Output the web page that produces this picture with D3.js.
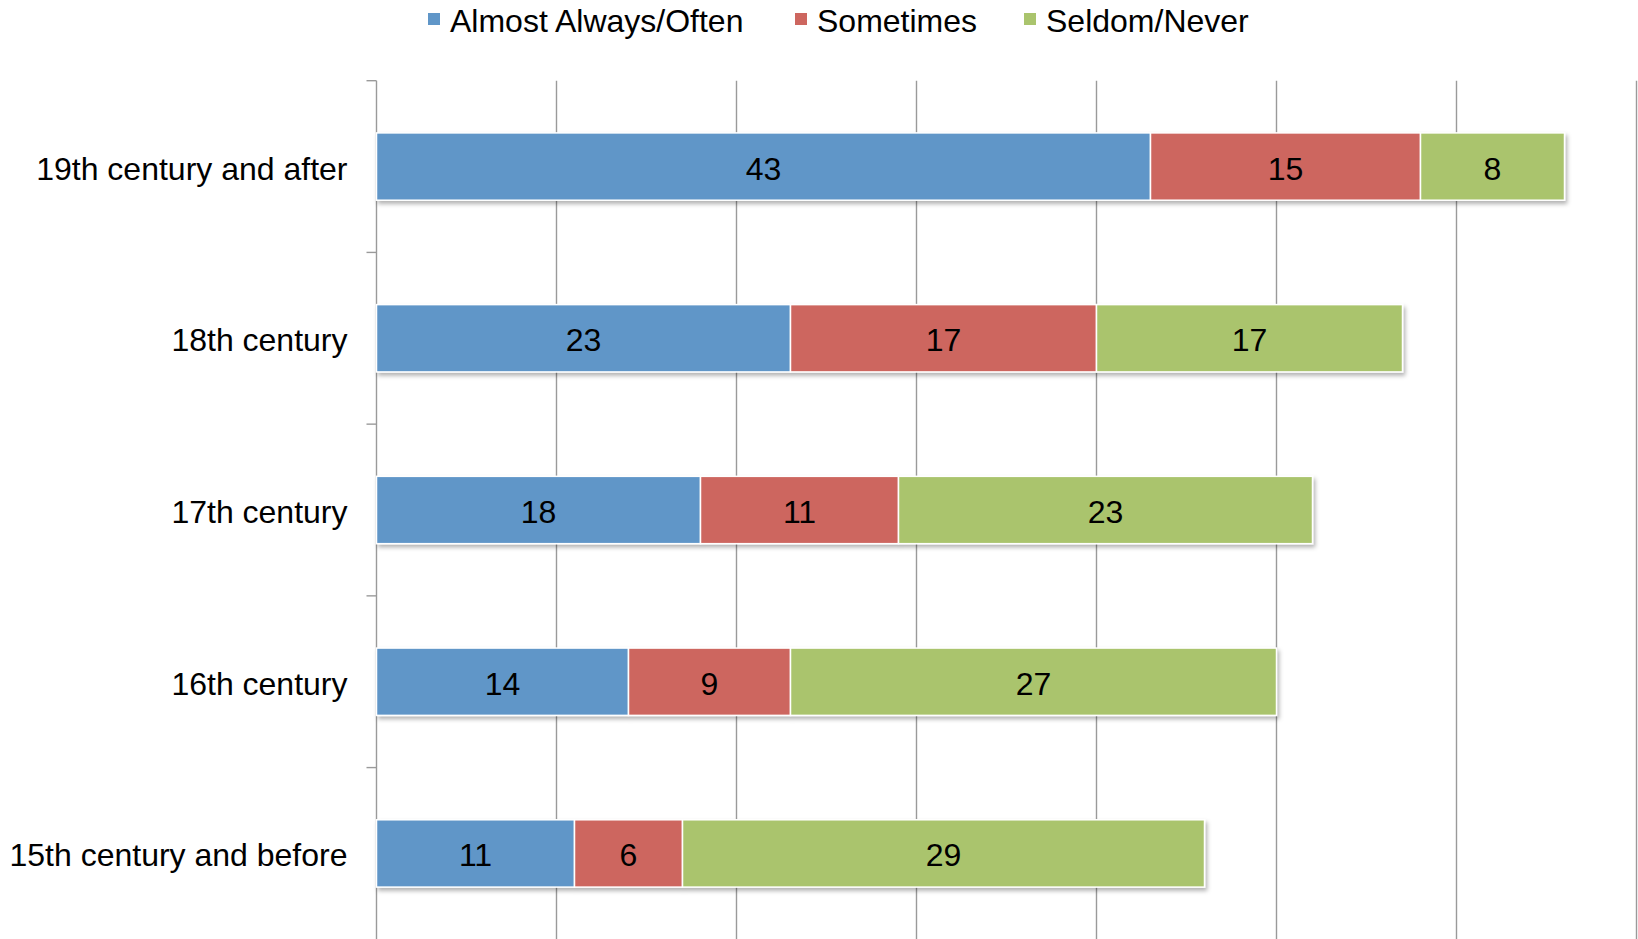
<!DOCTYPE html>
<html lang="en">
<head>
    <meta charset="UTF-8">
    <title>Stacked bars by century</title>
    <script src="https://d3js.org/d3.v7.min.js"></script>
    <style>
        html, body { margin: 0; padding: 0; background: #fff; }
        svg { display: block; font-family: "Liberation Sans", Arial, sans-serif; }
    </style>
</head>
<body>
    <svg id="chart"></svg>

    <script>
        // data, top row first
        const categories = ["19th century and after", "18th century", "17th century", "16th century", "15th century and before"];
        const seriesNames = ["Almost Always/Often", "Sometimes", "Seldom/Never"];
        const almostAlways = [43, 23, 18, 14, 11];
        const sometimes = [15, 17, 11, 9, 6];
        const seldomNever = [8, 17, 23, 27, 29];
        const xTicks = [0, 10, 20, 30, 40, 50, 60, 70];
        const colors = ["#6096c8", "#cd665f", "#aac46d"];

        const width = 1638, height = 939;
        const margin = { top: 80.7, right: 1.5, bottom: -0.3, left: 376.5 };
        const fontSize = 32;

        const svg = d3.select("#chart")
            .attr("width", width)
            .attr("height", height);

        const defs = svg.append("defs");
        defs.append("filter")
            .attr("id", "shadow")
            .attr("x", "-5%").attr("y", "-20%")
            .attr("width", "110%").attr("height", "150%")
            .append("feDropShadow")
            .attr("dx", 2).attr("dy", 3)
            .attr("stdDeviation", 2)
            .attr("flood-color", "#000")
            .attr("flood-opacity", 0.3);

        const x = d3.scaleLinear()
            .domain([0, 70])
            .range([margin.left, width - margin.right]);

        const y = d3.scaleBand()
            .domain(categories)
            .range([margin.top, height - margin.bottom])
            .paddingInner(0.608)
            .paddingOuter(0.304);

        const rows = categories.map((c, i) => ({
            category: c,
            [seriesNames[0]]: almostAlways[i],
            [seriesNames[1]]: sometimes[i],
            [seriesNames[2]]: seldomNever[i]
        }));
        const stacked = d3.stack().keys(seriesNames)(rows);

        // vertical gridlines
        svg.append("g")
            .selectAll("line")
            .data(xTicks.slice(1))
            .join("line")
            .attr("x1", d => x(d)).attr("x2", d => x(d))
            .attr("y1", margin.top).attr("y2", height)
            .attr("stroke", "#9a9a9a")
            .attr("stroke-width", 1.4);

        // category axis
        const step = y.step();
        const boundaries = d3.range(categories.length).map(i => margin.top + i * step);
        const axis = svg.append("g");
        axis.append("line")
            .attr("x1", x(0)).attr("x2", x(0))
            .attr("y1", margin.top).attr("y2", height)
            .attr("stroke", "#9a9a9a")
            .attr("stroke-width", 1.4);
        axis.selectAll(".tick")
            .data(boundaries)
            .join("line")
            .attr("class", "tick")
            .attr("x1", x(0) - 10).attr("x2", x(0))
            .attr("y1", d => d).attr("y2", d => d)
            .attr("stroke", "#9a9a9a")
            .attr("stroke-width", 1.4);
        axis.selectAll("text")
            .data(categories)
            .join("text")
            .attr("x", x(0) - 29)
            .attr("y", d => y(d) + y.bandwidth() / 2)
            .attr("dy", 2)
            .attr("text-anchor", "end")
            .attr("dominant-baseline", "central")
            .attr("font-size", fontSize)
            .attr("fill", "#000")
            .text(d => d);

        // bars
        const barGroups = svg.append("g")
            .selectAll("g")
            .data(rows)
            .join("g")
            .attr("filter", "url(#shadow)");

        barGroups.selectAll("rect")
            .data((r, i) => stacked.map((s, k) => ({ seg: s[i], k })))
            .join("rect")
            .attr("x", d => x(d.seg[0]))
            .attr("y", d => y(d.seg.data.category))
            .attr("width", d => x(d.seg[1]) - x(d.seg[0]))
            .attr("height", y.bandwidth())
            .attr("fill", d => colors[d.k])
            .attr("stroke", "#fff")
            .attr("stroke-width", 1.5);

        // value labels
        const labels = [];
        stacked.forEach(s => s.forEach(seg => labels.push(seg)));
        svg.append("g")
            .selectAll("text")
            .data(labels)
            .join("text")
            .attr("x", d => (x(d[0]) + x(d[1])) / 2)
            .attr("y", d => y(d.data.category) + y.bandwidth() / 2)
            .attr("dy", 2)
            .attr("text-anchor", "middle")
            .attr("dominant-baseline", "central")
            .attr("font-size", fontSize)
            .attr("fill", "#000")
            .text(d => d[1] - d[0]);

        // legend
        const legendX = [428, 795, 1024];
        const legend = svg.append("g")
            .selectAll("g")
            .data(seriesNames)
            .join("g")
            .attr("transform", (d, i) => `translate(${legendX[i]},0)`);
        legend.append("rect")
            .attr("x", 0).attr("y", 13)
            .attr("width", 12).attr("height", 12)
            .attr("fill", (d, i) => colors[i]);
        legend.append("text")
            .attr("x", 22)
            .attr("y", 21)
            .attr("dominant-baseline", "central")
            .attr("font-size", fontSize)
            .attr("fill", "#000")
            .text(d => d);
    </script>
</body>
</html>
